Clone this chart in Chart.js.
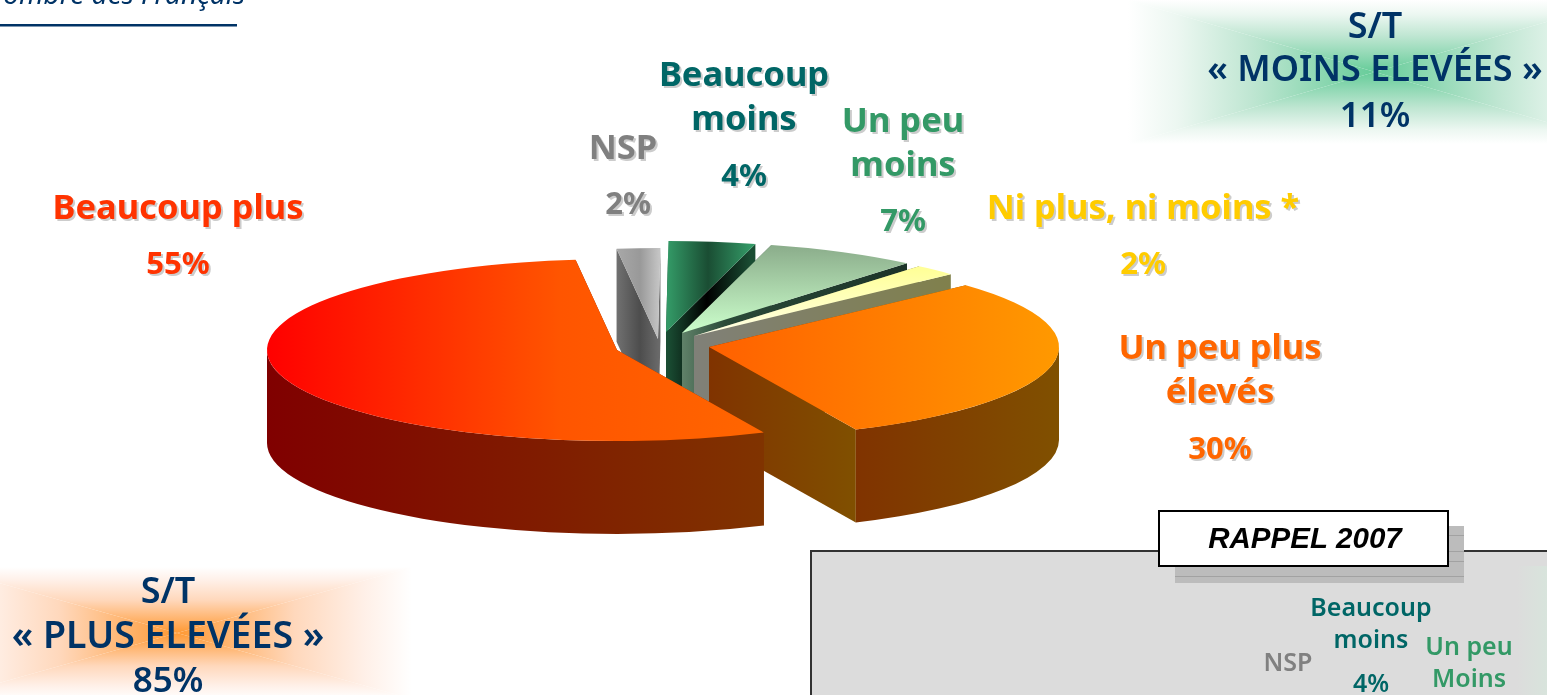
<!DOCTYPE html>
<html lang="fr">
<head>
<meta charset="utf-8">
<title>Rappel 2007</title>
<style>
    html, body { margin: 0; padding: 0; background: #fff; overflow: hidden; }
    canvas { display: block; }
</style>
<script src="https://cdn.jsdelivr.net/npm/chart.js@4/dist/chart.umd.js"></script>
</head>
<body>
<canvas id="pie" width="1547" height="695"></canvas>
<script>
// Data, in paint order (back slices first, the two big ones last)
const categories = ['NSP', 'Beaucoup moins', 'Un peu moins', 'Ni plus, ni moins', 'Un peu plus élevés', 'Beaucoup plus'];
const shares     = [2, 4, 7, 2, 30, 55];
const labelLines = [['NSP'], ['Beaucoup', 'moins'], ['Un peu', 'moins'], ['Ni plus, ni moins *'], ['Un peu plus', 'élevés'], ['Beaucoup plus']];

const subtotalPlus  = ['S/T', '« PLUS ELEVÉES »', '85%'];
const subtotalMoins = ['S/T', '« MOINS ELEVÉES »', '11%'];
const recallLabels  = ['Beaucoup', 'moins', '4%', 'NSP', 'Un peu', 'Moins'];

// Pie look
const CX = 663, CY = 345, RADIUS = 350;
const SQUASH = 91 / 350;
const DEPTH = 93;
const shifts = [[-5, -6], [3, -13], [19, -12], [31, -9], [46, 2], [-46, 5]];

const topStops = [
    [[617, '#a8a8a8'], [640, '#999999'], [659, '#c4c4c4']],
    [[668, '#339966'], [708, '#1a4d33'], [751, '#339966']],
    'v', 'v',
    [[709, '#ff6000'], [1058, '#ff9900']],
    [[267, '#ff0000'], [560, '#ff5500'], [762, '#ff6600']],
];
const topVertical = { 2: [[247, '#8cae8c'], [333, '#ccffcc']], 3: [[270, '#ffff99'], [336, '#ffffe8']] };
const sideStops = [
    [[617, '#707070'], [640, '#4d4d4d'], [659, '#6a6a6a']],
    [[668, '#1a4d33'], [707, '#000000'], [751, '#1a4d33']],
    [[683, '#5f8068'], [725, '#2a4a38'], [905, '#1c3328']],
    [[695, '#808078'], [950, '#80804c']],
    [[709, '#803300'], [856, '#805000']],
    [[267, '#800000'], [762, '#803300']],
];
const rimStops = { 4: [[856, '#803300'], [1058, '#805000']], 5: [[267, '#800000'], [762, '#803300']] };

const labelStyle = [
    { color: '#808080', spots: [[623, 149], [628, 205]] },
    { color: '#006666', spots: [[744, 76], [744, 120], [744, 177]] },
    { color: '#339966', spots: [[903, 122], [903, 166], [903, 222]] },
    { color: '#ffcc00', spots: [[1143, 209], [1143, 265]] },
    { color: '#ff6600', spots: [[1220, 349], [1220, 393], [1220, 450]] },
    { color: '#ff3300', spots: [[178, 209], [178, 265]] },
];

const NAVY = '#003366';
const FONT = '"Noto Sans"';

// ---------------------------------------------------------------------------
// Gradient helpers. Stops are given in page pixels, fills run in pie space.
// ---------------------------------------------------------------------------

function hGradient(ctx, i, stops) {
    const dx = shifts[i][0];
    const x0 = stops[0][0], x1 = stops[stops.length - 1][0];
    const g = ctx.createLinearGradient(x0 - dx, 0, x1 - dx, 0);
    stops.forEach(([x, c]) => g.addColorStop((x - x0) / (x1 - x0), c));
    return g;
}

function vGradient(ctx, i, stops) {
    const dy = shifts[i][1];
    const toPie = y => CY + (y - dy - CY) / SQUASH;
    const y0 = stops[0][0], y1 = stops[stops.length - 1][0];
    const g = ctx.createLinearGradient(0, toPie(y0), 0, toPie(y1));
    stops.forEach(([y, c]) => g.addColorStop((y - y0) / (y1 - y0), c));
    return g;
}

// ---------------------------------------------------------------------------
// Extruded walls under each slice
// ---------------------------------------------------------------------------

function drawWalls(ctx, arc, i) {
    const { x, y, startAngle: a0, endAngle: a1, outerRadius: r } = arc;
    const depth = DEPTH / SQUASH;

    ctx.fillStyle = hGradient(ctx, i, sideStops[i]);
    [a0, a1].forEach(a => {
        const ex = x + r * Math.cos(a), ey = y + r * Math.sin(a);
        ctx.beginPath();
        ctx.moveTo(x, y);
        ctx.lineTo(x, y + depth);
        ctx.lineTo(ex, ey + depth);
        ctx.lineTo(ex, ey);
        ctx.closePath();
        ctx.fill();
    });

    // only the front half of the rim can be seen
    const from = Math.max(a0, 0), to = Math.min(a1, Math.PI);
    if (to > from && rimStops[i]) {
        ctx.fillStyle = hGradient(ctx, i, rimStops[i]);
        ctx.beginPath();
        ctx.arc(x, y, r, from, to);
        ctx.arc(x, y + depth, r, to, from, true);
        ctx.closePath();
        ctx.fill();
    }
}

const pie3d = {
    id: 'pie3d',
    beforeDatasetDraw(chart, args) {
        const ctx = chart.ctx;
        const arcs = args.meta.data;
        arcs.forEach((arc, i) => {
            ctx.save();
            ctx.translate(0, CY * (1 - SQUASH));
            ctx.scale(1, SQUASH);
            ctx.translate(shifts[i][0], shifts[i][1] / SQUASH);
            drawWalls(ctx, arc, i);
            arc.draw(ctx);
            ctx.restore();
        });
        return false;
    },
};

// ---------------------------------------------------------------------------
// Decorations behind and around the pie
// ---------------------------------------------------------------------------

// Rectangular "from centre" glow, four triangles meeting in the middle
function glow(ctx, cx, cy, hw, hh, stops) {
    const corners = [[-hw, -hh], [hw, -hh], [hw, hh], [-hw, hh]];
    const ends = [[0, -hh], [hw, 0], [0, hh], [-hw, 0]];
    corners.forEach((c, k) => {
        const n = corners[(k + 1) % 4];
        const g = ctx.createLinearGradient(cx, cy, cx + ends[k][0], cy + ends[k][1]);
        stops.forEach(([p, col]) => g.addColorStop(p, col));
        ctx.fillStyle = g;
        ctx.beginPath();
        ctx.moveTo(cx, cy);
        ctx.lineTo(cx + c[0], cy + c[1]);
        ctx.lineTo(cx + n[0], cy + n[1]);
        ctx.closePath();
        ctx.fill();
    });
}

function drawBackdrop(ctx) {
    glow(ctx, 1375, 72, 247, 72, [[0, '#66cc99'], [0.5, '#bfe6d2'], [0.8, '#ecf7f1'], [1, '#ffffff']]);
    glow(ctx, 177, 633, 235, 66, [[0, '#ff9933'], [0.5, '#ffd8bc'], [0.8, '#fff0e8'], [1, '#ffffff']]);

    // 2007 inset
    ctx.fillStyle = '#dcdcdc';
    ctx.fillRect(811, 551, 740, 150);
    const side = ctx.createLinearGradient(1517, 0, 1547, 0);
    side.addColorStop(0, '#dcdcdc');
    side.addColorStop(1, '#d8e4dc');
    ctx.fillStyle = side;
    ctx.fillRect(1517, 566, 30, 130);
    ctx.strokeStyle = '#333333';
    ctx.lineWidth = 2;
    ctx.strokeRect(811, 551, 740, 150);

    ctx.fillStyle = '#bcbcbc';
    ctx.fillRect(1175, 526, 289, 57);
    ctx.fillStyle = '#a2a2a2';
    ctx.fillRect(1448, 551, 16, 1);
    ctx.fillRect(1448, 535, 16, 1);
    ctx.fillRect(1448, 561, 16, 1);
    ctx.fillRect(1175, 576, 289, 1);

    ctx.fillStyle = '#ffffff';
    ctx.fillRect(1159, 511, 289, 55);
    ctx.strokeStyle = '#000000';
    ctx.strokeRect(1159, 511, 289, 55);

    // header rule
    ctx.fillStyle = NAVY;
    ctx.fillRect(0, 24, 237, 2.5);
}

function text(ctx, str, x, y, font, color, shadow) {
    ctx.font = font;
    ctx.textAlign = 'center';
    ctx.textBaseline = 'middle';
    if (shadow) {
        ctx.shadowColor = '#cccccc';
        ctx.shadowOffsetX = 2;
        ctx.shadowOffsetY = 2;
    }
    ctx.fillStyle = color;
    ctx.fillText(str, x, y);
    ctx.shadowColor = 'transparent';
    ctx.shadowOffsetX = 0;
    ctx.shadowOffsetY = 0;
}

function drawTexts(ctx) {
    // slice labels, the percent comes from the share
    shares.forEach((v, i) => {
        const { color, spots } = labelStyle[i];
        labelLines[i].forEach((line, k) => {
            text(ctx, line, spots[k][0], spots[k][1], `bold 34.5px ${FONT}`, color, true);
        });
        const last = spots[spots.length - 1];
        text(ctx, `${v}%`, last[0], last[1], `bold 31px ${FONT}`, color, true);
    });

    const big = k => `600 ${k === 2 ? 35 : 36}px ${FONT}`;
    subtotalMoins.forEach((line, k) => text(ctx, line, 1375, [28, 71, 117][k], big(k), NAVY));
    subtotalPlus.forEach((line, k) => text(ctx, line, 168, [593, 637, 682][k], k === 1 ? `600 37.5px ${FONT}` : big(k), NAVY));

    text(ctx, 'RAPPEL 2007', 1305, 540, 'italic bold 29.5px "Liberation Sans"', '#000000');

    const small = `600 25px ${FONT}`;
    const recallColors = ['#006666', '#006666', '#006666', '#808080', '#339966', '#339966'];
    const recallSpots = [[1371, 609], [1371, 641], [1371, 685], [1288, 664], [1469, 648], [1469, 680]];
    recallLabels.forEach((line, k) => text(ctx, line, recallSpots[k][0], recallSpots[k][1], small, recallColors[k]));

    ctx.font = `italic 28px ${FONT}`;
    ctx.textAlign = 'right';
    ctx.textBaseline = 'alphabetic';
    ctx.fillStyle = NAVY;
    ctx.fillText('ombre des Français', 245, 4);
}

const page = {
    id: 'page',
    beforeDraw(chart) { drawBackdrop(chart.ctx); },
    afterDraw(chart) { drawTexts(chart.ctx); },
};

// ---------------------------------------------------------------------------
// Chart
// ---------------------------------------------------------------------------

new Chart(document.getElementById('pie').getContext('2d'), {
    type: 'pie',
    data: {
        labels: categories,
        datasets: [{
            data: shares,
            borderWidth: 0,
            backgroundColor(c) {
                const i = c.dataIndex;
                if (i === undefined) return '#999';
                return topVertical[i]
                    ? vGradient(c.chart.ctx, i, topVertical[i])
                    : hGradient(c.chart.ctx, i, topStops[i]);
            },
        }],
    },
    options: {
        responsive: false,
        animation: false,
        rotation: -6.8,
        radius: RADIUS,
        layout: { padding: { right: 1547 - 2 * CX, bottom: 695 - 2 * CY } },
        plugins: { legend: { display: false }, tooltip: { enabled: false } },
    },
    plugins: [pie3d, page],
});
</script>
</body>
</html>
